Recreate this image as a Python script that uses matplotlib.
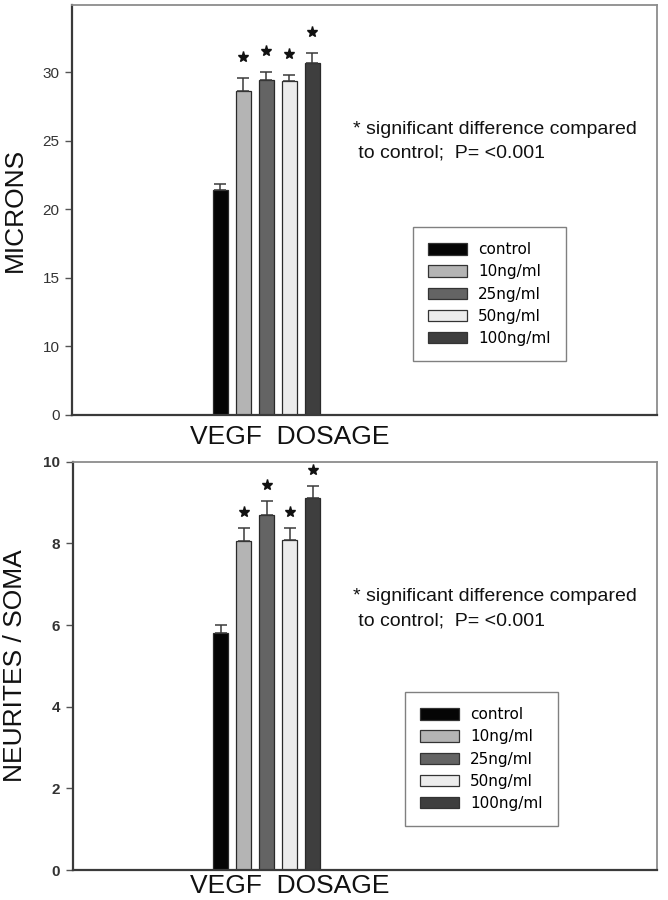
import numpy as np
import matplotlib
matplotlib.use('Agg')
import matplotlib.pyplot as plt
import matplotlib.transforms as mtransforms
from matplotlib.patches import Patch

plt.rcParams['font.family'] = ['Liberation Sans', 'DejaVu Sans']

# 数据
groups = ['control', '10ng/ml', '25ng/ml', '50ng/ml', '100ng/ml']
bar_colors = ['#050505', '#b4b4b4', '#646464', '#ececec', '#3e3e3e']
starred = [False, True, True, True, True]

microns_mean = [21.4, 28.6, 29.45, 29.35, 30.7]
microns_err = [0.45, 1.0, 0.55, 0.45, 0.7]

neurites_mean = [5.80, 8.05, 8.70, 8.08, 9.10]
neurites_err = [0.20, 0.32, 0.34, 0.29, 0.31]

note1 = '* significant difference compared'
note2 = ' to control;  P= <0.001'

W, H = 668, 900
fig = plt.figure(figsize=(W / 100, H / 100), dpi=100)


def fpos(x0, y0, x1, y1):
    # 像素 -> figure 坐标
    return [x0 / W, 1 - y1 / H, (x1 - x0) / W, (y1 - y0) / H]


def ftext(x, y, s, **kw):
    fig.text(x / W, 1 - y / H, s, **kw)


# 0-10 是压缩的断轴
def fwd(y):
    y = np.asarray(y, dtype=float)
    return np.where(y < 10, y / 2.0, y - 5.0)


def inv(t):
    t = np.asarray(t, dtype=float)
    return np.where(t < 5, t * 2.0, t + 5.0)


def draw_panel(ax, means, errs, ylabel, star_off, legend_xy, note_y, xlab_y, bold_ticks):
    x = np.arange(len(groups))
    ax.bar(x, means, width=0.65, color=bar_colors, edgecolor='#2a2a2a', linewidth=0.9, zorder=2)
    ax.errorbar(x, means, yerr=[np.zeros(len(errs)), errs], fmt='none',
                ecolor='#3a3a3a', elinewidth=1.1, capsize=4.5, capthick=1.1, zorder=3)
    tops = np.array(means) + np.array(errs)
    trans = mtransforms.offset_copy(ax.transData, fig=fig, y=star_off, units='points')
    for i in range(len(groups)):
        if starred[i]:
            ax.plot(x[i], tops[i], marker='*', color='#111111', markersize=8,
                    transform=trans, clip_on=False)

    ax.set_xlim(-6.45, 19.0)
    ax.set_xticks([])
    for s in ['left', 'bottom']:
        ax.spines[s].set_color('#3a3a3a')
        ax.spines[s].set_linewidth(1.6)
    for s in ['top', 'right']:
        ax.spines[s].set_color('#8c8c8c')
        ax.spines[s].set_linewidth(1.3)
    ax.tick_params(axis='y', direction='out', length=5, width=1, color='#555555',
                   labelsize=11, labelcolor='#333333', pad=4)
    if bold_ticks:
        for lab in ax.get_yticklabels():
            lab.set_fontweight('bold')

    # 轴标题
    bb = ax.get_position()
    yc = (1 - bb.y1 + (bb.y1 - bb.y0) / 2) * H
    ftext(15, yc, ylabel, rotation=90, ha='center', va='center', fontsize=19, color='#111111')
    ftext(290, xlab_y, 'VEGF  DOSAGE', ha='center', va='center', fontsize=19, color='#111111')

    ftext(353, note_y, note1, ha='left', va='baseline', fontsize=14, color='#111111')
    ftext(353, note_y + 24, note2, ha='left', va='baseline', fontsize=14, color='#111111')

    handles = [Patch(facecolor=c, edgecolor='#333333', linewidth=0.9) for c in bar_colors]
    ax.legend(handles, groups, loc='upper left',
              bbox_to_anchor=(legend_xy[0] / W, 1 - legend_xy[1] / H),
              bbox_transform=fig.transFigure, borderaxespad=0,
              fancybox=False, edgecolor='#808080', framealpha=1,
              prop={'family': 'DejaVu Sans', 'size': 11},
              handlelength=2.55, handleheight=0.78, handletextpad=0.72,
              labelspacing=0.47, borderpad=1.0)


# 上图
ax1 = fig.add_axes(fpos(72, 5, 657, 415))
ax1.set_yscale('function', functions=(fwd, inv))
ax1.set_ylim(0, 34.9)
ax1.set_yticks([0, 10, 15, 20, 25, 30])
ax1.set_yticklabels(['0', '10', '15', '20', '25', '30'])
draw_panel(ax1, microns_mean, microns_err, 'MICRONS', 15, (413, 227), 134, 437, False)

# 下图
ax2 = fig.add_axes(fpos(72.5, 461.7, 657, 870))
ax2.set_ylim(0, 10)
ax2.set_yticks([0, 2, 4, 6, 8, 10])
draw_panel(ax2, neurites_mean, neurites_err, 'NEURITES / SOMA', 11.5, (405, 692), 601, 886, True)

fig.savefig('out.png', dpi=100)
